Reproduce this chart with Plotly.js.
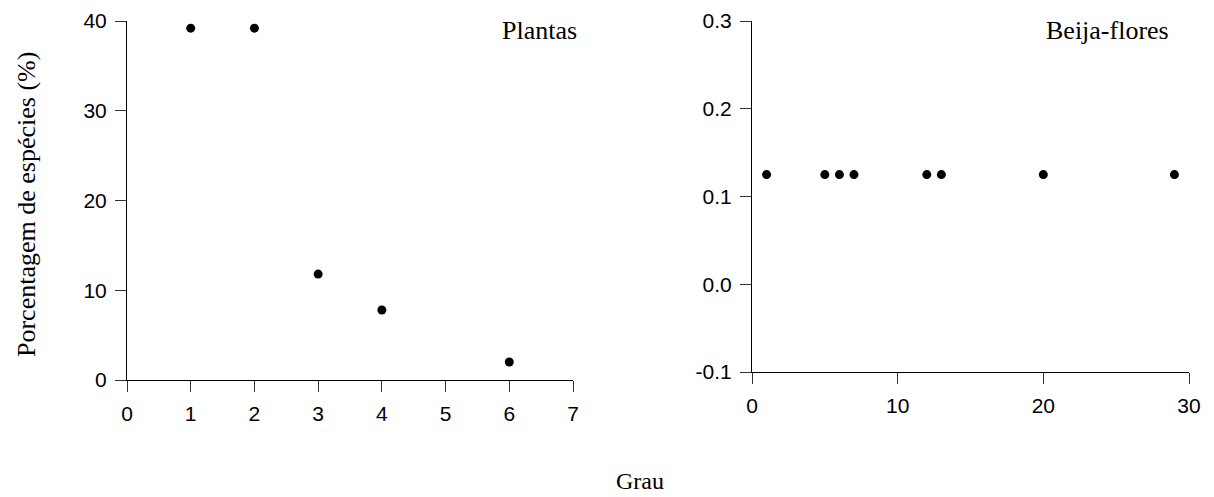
<!DOCTYPE html>
<html>
<head>
<meta charset="utf-8">
<script src="https://cdn.plot.ly/plotly-3.0.1.min.js"></script>
<style>html,body{margin:0;padding:0;background:#fff;}#chart{width:1214px;height:497px;}</style>
</head>
<body>
<div id="chart"></div>
<script>
// Plantas panel
const plantGrau = [1, 2, 3, 4, 6];
const plantPct = [39.2, 39.2, 11.8, 7.8, 2.0];
// Beija-flores panel
const birdGrau = [1, 5, 6, 7, 12, 13, 20, 29];
const birdPct = [0.125, 0.125, 0.125, 0.125, 0.125, 0.125, 0.125, 0.125];

const leftXTicks = [0, 1, 2, 3, 4, 5, 6, 7];
const leftYTicks = [0, 10, 20, 30, 40];
const rightXTicks = [0, 10, 20, 30];
const rightYTicks = [-0.1, 0, 0.1, 0.2, 0.3];
const rightYLabels = ["-0.1", "0.0", "0.1", "0.2", "0.3"];

const panelLabels = ["Plantas", "Beija-flores"];
const xTitle = "Grau";
const yTitle = "Porcentagem de espécies (%)";

const W = 1214, H = 497;
const px = v => v / W;
const py = v => 1 - v / H;

const tickFont = {family: "Liberation Sans, Arial, sans-serif", size: 21, color: "#000"};
const serif = {family: "Liberation Serif, Times New Roman, serif", size: 26, color: "#000"};
const serifX = {family: "Liberation Serif, Times New Roman, serif", size: 24, color: "#000"};

function axisBase() {
  return {
    showline: true, linecolor: "#000", linewidth: 1,
    ticks: "outside", ticklen: 11, tickcolor: "#333", tickwidth: 1,
    showgrid: false, zeroline: false, mirror: false,
    tickfont: tickFont, fixedrange: true
  };
}

const marker = {color: "#000", size: 9};
const data = [
  {x: plantGrau, y: plantPct, mode: "markers", type: "scatter", marker: marker, xaxis: "x", yaxis: "y", cliponaxis: false, hoverinfo: "x+y"},
  {x: birdGrau, y: birdPct, mode: "markers", type: "scatter", marker: marker, xaxis: "x2", yaxis: "y2", cliponaxis: false, hoverinfo: "x+y"}
];

const layout = {
  width: W, height: H,
  margin: {l: 0, r: 0, t: 0, b: 0},
  paper_bgcolor: "#fff", plot_bgcolor: "#fff",
  showlegend: false,
  xaxis: Object.assign(axisBase(), {domain: [px(127), px(573)], range: [0, 7], tickvals: leftXTicks, anchor: "y", ticklabelstandoff: 4}),
  yaxis: Object.assign(axisBase(), {domain: [py(380), py(21)], range: [0, 40], tickvals: leftYTicks, anchor: "x", ticklabelstandoff: 4}),
  xaxis2: Object.assign(axisBase(), {domain: [px(752), px(1189)], range: [0, 30], tickvals: rightXTicks, anchor: "y2", ticklabelstandoff: 4}),
  yaxis2: Object.assign(axisBase(), {domain: [py(372), py(21)], range: [-0.1, 0.3], tickvals: rightYTicks, ticktext: rightYLabels, anchor: "x2", ticklabelstandoff: 4}),
  annotations: [
    {text: panelLabels[0], xref: "paper", yref: "paper", x: px(539), y: py(31), xanchor: "center", yanchor: "middle", showarrow: false, font: serif},
    {text: panelLabels[1], xref: "paper", yref: "paper", x: px(1107), y: py(31), xanchor: "center", yanchor: "middle", showarrow: false, font: serif},
    {text: xTitle, xref: "paper", yref: "paper", x: px(640), y: py(481), xanchor: "center", yanchor: "middle", showarrow: false, font: serifX},
    {text: yTitle, xref: "paper", yref: "paper", x: px(27), y: py(205), xanchor: "center", yanchor: "middle", textangle: -90, showarrow: false, font: serif}
  ]
};

Plotly.newPlot("chart", data, layout, {displayModeBar: false, staticPlot: true});
</script>
</body>
</html>
